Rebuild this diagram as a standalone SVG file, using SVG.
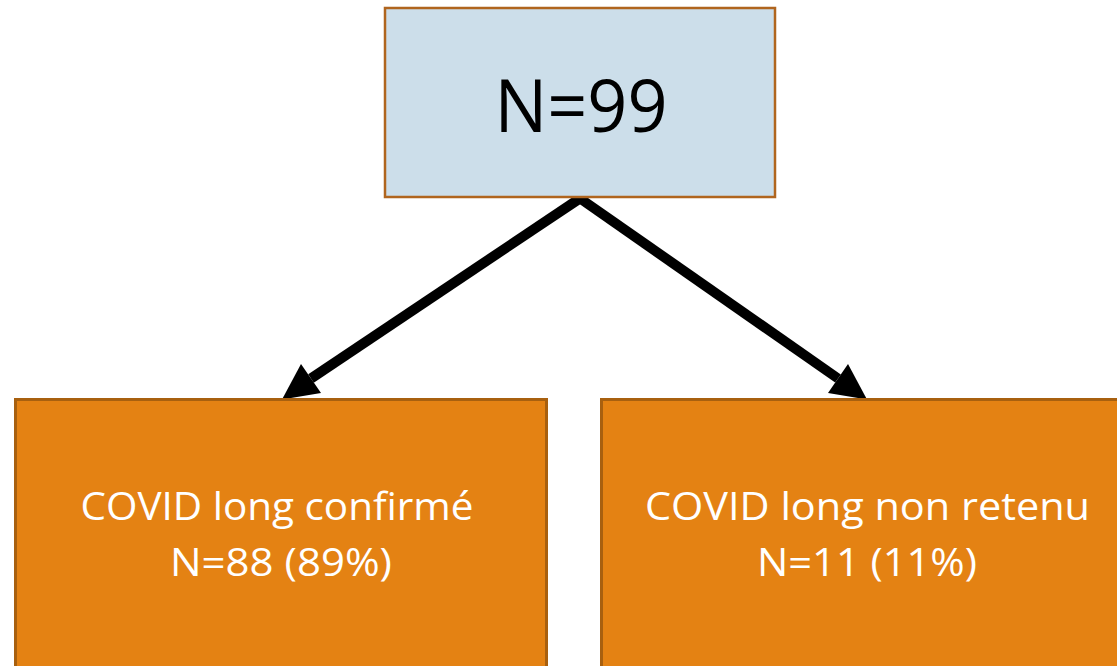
<svg xmlns="http://www.w3.org/2000/svg" width="1117" height="666" viewBox="0 0 1117 666">
  <style>
    .root-box { fill: #CCDEEA; stroke: #B0651E; stroke-width: 2.5; }
    .leaf-box { fill: #E48213; stroke: #A8600F; stroke-width: 3; }
    .root-label { font-family: "Open Sans", "Liberation Sans", sans-serif; font-size: 74px; fill: #000; text-anchor: middle; }
    .leaf-label { font-family: "Open Sans", "Liberation Sans", sans-serif; font-size: 39px; fill: #fff; text-anchor: middle; }
    .link { stroke: #000; stroke-width: 10; fill: none; stroke-linecap: butt; }
    .head { fill: #000; }
  </style>
  <rect width="1117" height="666" fill="#fff"/>

  <g id="connectors">
    <line class="link" x1="582" y1="197" x2="311" y2="378.5"/>
    <polygon class="head" points="282,399.5 301,364 321,393"/>
    <line class="link" x1="578" y1="197" x2="838" y2="378.5"/>
    <polygon class="head" points="867,399.5 848,364 828,393"/>
  </g>

  <g id="total">
    <rect class="root-box" x="385" y="8" width="390" height="189"/>
    <text class="root-label" x="581" y="132" textLength="173" lengthAdjust="spacingAndGlyphs">N=99</text>
  </g>

  <g id="confirmed">
    <rect class="leaf-box" x="15.5" y="399.5" width="531" height="290"/>
    <text class="leaf-label" x="277" y="520" textLength="393" lengthAdjust="spacingAndGlyphs">COVID long confirmé</text>
    <text class="leaf-label" x="281" y="576" textLength="222" lengthAdjust="spacingAndGlyphs">N=88 (89%)</text>
  </g>

  <g id="not-retained">
    <rect class="leaf-box" x="601.5" y="399.5" width="531" height="290"/>
    <text class="leaf-label" x="867.5" y="520" textLength="445" lengthAdjust="spacingAndGlyphs">COVID long non retenu</text>
    <text class="leaf-label" x="867" y="576" textLength="220" lengthAdjust="spacingAndGlyphs">N=11 (11%)</text>
  </g>
</svg>
